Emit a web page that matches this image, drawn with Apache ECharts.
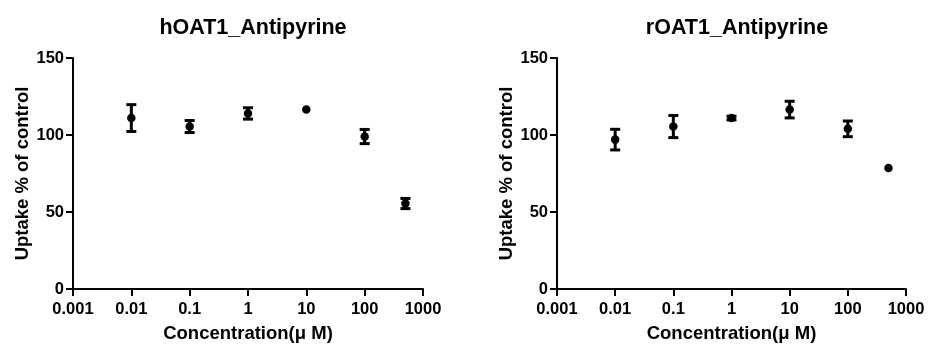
<!DOCTYPE html>
<html>
<head>
<meta charset="utf-8">
<script src="https://cdn.jsdelivr.net/npm/echarts@6/dist/echarts.min.js"></script>
<style>
  html, body { margin: 0; padding: 0; background: #fff; }
  #chart { width: 928px; height: 344px; }
</style>
</head>
<body>
<div id="chart"></div>
<script>
// Concentration (µM) of each measurement
const concentrations = [0.01, 0.1, 1, 10, 100, 500];

// hOAT1 uptake, % of control (mean and SD)
const hoatMean = [111, 105.5, 114, 116.5, 99, 55.5];
const hoatErr = [8.7, 3.9, 3.7, 0, 4.6, 3.3];

// rOAT1 uptake, % of control (mean and SD)
const roatMean = [97, 105.5, 111, 116.5, 104, 78.5];
const roatErr = [6.7, 7.2, 1.2, 5.4, 5.1, 0];

const titles = ['hOAT1_Antipyrine', 'rOAT1_Antipyrine'];
const yName = 'Uptake % of control';
const xName = 'Concentration(\u03bc M)';

const FONT = '"Liberation Sans", Arial, sans-serif';

const chart = echarts.init(document.getElementById('chart'));

function points(means) {
  return concentrations.map((c, i) => [c, means[i]]);
}

function errorRanges(means, errs) {
  return concentrations
    .map((c, i) => [c, means[i] - errs[i], means[i] + errs[i]])
    .filter((d, i) => errs[i] > 0);
}

// draws a vertical bar with caps from low to high
function renderErrorBar(params, api) {
  const x = api.value(0);
  const top = api.coord([x, api.value(2)]);
  const bot = api.coord([x, api.value(1)]);
  const half = 5;
  const style = { stroke: '#000', lineWidth: 3 };
  return {
    type: 'group',
    children: [
      { type: 'line', shape: { x1: top[0], y1: top[1], x2: bot[0], y2: bot[1] }, style },
      { type: 'line', shape: { x1: top[0] - half, y1: top[1], x2: top[0] + half, y2: top[1] }, style },
      { type: 'line', shape: { x1: bot[0] - half, y1: bot[1], x2: bot[0] + half, y2: bot[1] }, style }
    ]
  };
}

const axisLine = { lineStyle: { color: '#000', width: 2 } };
const axisTick = { length: 7, lineStyle: { color: '#000', width: 2 } };
const labelStyle = { color: '#000', fontFamily: FONT, fontWeight: 'bold', fontSize: 16.5 };
const nameStyle = { color: '#000', fontFamily: FONT, fontWeight: 'bold', fontSize: 18.5 };

// fixed plot boxes, no auto shrinking to fit labels
const grids = [
  { left: 73, top: 58, width: 350, height: 231, outerBoundsMode: 'none', containLabel: false },
  { left: 557, top: 58, width: 349, height: 231, outerBoundsMode: 'none', containLabel: false }
];

function xAxis(gridIndex) {
  return {
    gridIndex,
    type: 'log',
    logBase: 10,
    min: 0.001,
    max: 1000,
    interval: 1,
    name: xName,
    nameLocation: 'middle',
    nameGap: 35,
    nameTextStyle: nameStyle,
    axisLine,
    axisTick,
    splitLine: { show: false },
    minorTick: { show: false },
    axisLabel: Object.assign({}, labelStyle, {
      margin: 12,
      formatter: v => String(+Number(v).toPrecision(3))
    })
  };
}

function yAxis(gridIndex) {
  return {
    gridIndex,
    type: 'value',
    min: 0,
    max: 150,
    interval: 50,
    name: yName,
    nameLocation: 'middle',
    nameGap: 41,
    nameTextStyle: nameStyle,
    axisLine: Object.assign({ show: true }, axisLine),
    axisTick: Object.assign({ show: true }, axisTick),
    splitLine: { show: false },
    axisLabel: Object.assign({}, labelStyle, { margin: 9 })
  };
}

const dotStyle = { color: '#000', opacity: 1 };

const option = {
  backgroundColor: '#fff',
  animation: false,
  title: [
    { text: titles[0], left: 248, top: 12, textAlign: 'center',
      textStyle: { color: '#000', fontFamily: FONT, fontWeight: 'bold', fontSize: 21.5 } },
    { text: titles[1], left: 732, top: 12, textAlign: 'center',
      textStyle: { color: '#000', fontFamily: FONT, fontWeight: 'bold', fontSize: 21.5 } }
  ],
  grid: grids,
  xAxis: [xAxis(0), xAxis(1)],
  yAxis: [yAxis(0), yAxis(1)],
  series: [
    {
      type: 'custom', xAxisIndex: 0, yAxisIndex: 0,
      renderItem: renderErrorBar,
      data: errorRanges(hoatMean, hoatErr),
      encode: { x: 0, y: [1, 2] }
    },
    {
      type: 'scatter', xAxisIndex: 0, yAxisIndex: 0,
      symbol: 'circle', symbolSize: 8.5,
      itemStyle: dotStyle,
      data: points(hoatMean)
    },
    {
      type: 'custom', xAxisIndex: 1, yAxisIndex: 1,
      renderItem: renderErrorBar,
      data: errorRanges(roatMean, roatErr),
      encode: { x: 0, y: [1, 2] }
    },
    {
      type: 'scatter', xAxisIndex: 1, yAxisIndex: 1,
      symbol: 'circle', symbolSize: 8.5,
      itemStyle: dotStyle,
      data: points(roatMean)
    }
  ]
};

chart.setOption(option);
</script>
</body>
</html>
